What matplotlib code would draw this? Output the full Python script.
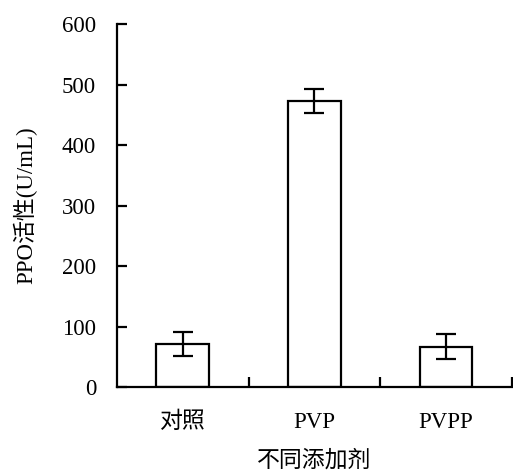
import matplotlib

matplotlib.use("Agg")
import matplotlib.pyplot as plt
import numpy as np

categories = ["对照", "PVP", "PVPP"]
activity = [71, 473, 67]
errors = [20, 20, 20]
y_ticks = [0, 100, 200, 300, 400, 500, 600]

plt.rcParams["font.family"] = ["Liberation Serif", "Noto Sans CJK SC"]

fig = plt.figure(figsize=(5.13, 4.72), dpi=100)
ax = fig.add_axes([0.228, 0.18, 0.77, 0.769])

x = np.arange(len(categories))
ax.bar(x, activity, width=0.4, color="white", edgecolor="black", linewidth=1.6, zorder=2)
ax.errorbar(x, activity, yerr=errors, fmt="none", ecolor="black",
            elinewidth=1.6, capsize=7, capthick=1.6, zorder=3)

ax.set_xlim(-0.5, len(categories) - 0.5)
ax.set_ylim(0, 600)
ax.set_yticks(y_ticks)
ax.set_xticks(x)
ax.set_xticklabels(categories)
ax.set_xticks(np.arange(len(categories)) + 0.5, minor=True)
ax.tick_params(axis="x", which="major", length=0, pad=18, labelsize=16.5)
ax.tick_params(axis="x", which="minor", direction="in", length=7, width=1.6)
ax.tick_params(axis="y", direction="in", length=7, width=1.6, pad=15, labelsize=16.5)

for side in ["top", "right"]:
    ax.spines[side].set_visible(False)
for side in ["left", "bottom"]:
    ax.spines[side].set_linewidth(1.6)

ax.set_xlabel("不同添加剂", fontsize=16.5, labelpad=12)
ax.set_ylabel("PPO活性(U/mL)", fontsize=16.5, labelpad=18)

fig.savefig("out.png", dpi=100)
